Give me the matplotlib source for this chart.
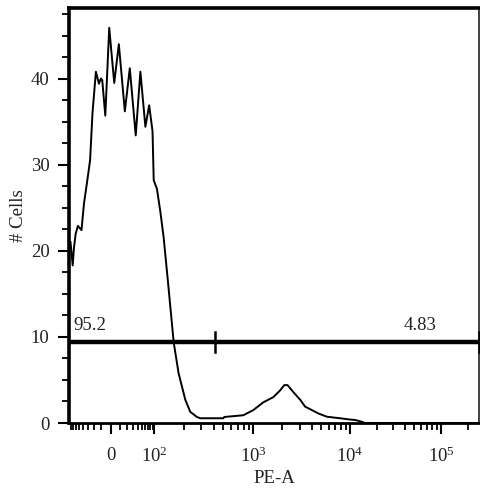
import numpy as np
import matplotlib
matplotlib.use("Agg")
import matplotlib.pyplot as plt
from matplotlib.ticker import FixedLocator, NullFormatter, FixedFormatter

plt.rcParams['font.family'] = ['Liberation Serif', 'DejaVu Serif']
plt.rcParams['mathtext.fontset'] = 'custom'
plt.rcParams['mathtext.rm'] = 'Liberation Serif'
plt.rcParams['mathtext.it'] = 'Liberation Serif:italic'

# ---- data ----
pe_a = [-81, -72, -67, -61, -54, -44, -38, -31, -26, -22, -17, -13, -10.6, -9.0,
        -5.6, -1.4, 3.9, 9.0, 16.5, 23.9, 35, 46, 61, 75, 90, 96, 106, 115, 124,
        139, 157, 176, 206, 231, 270, 292, 498, 510, 793, 1000, 1268, 1607, 1898,
        2087, 2258, 2585, 3050, 3430, 4030, 4710, 5750, 7880, 10000, 11350, 12880,
        14600, 262144]
cells = [21.0, 18.3, 20.4, 22.0, 22.9, 22.4, 25.5, 28.2, 30.5, 36, 40.8, 39.4,
         40.0, 39.8, 35.7, 45.9, 39.5, 44.0, 36.2, 41.2, 33.4, 40.8, 34.4, 36.9,
         33.9, 28.2, 27.2, 24.5, 21.6, 15.8, 9.4, 5.8, 2.7, 1.3, 0.7, 0.55, 0.55,
         0.7, 0.9, 1.5, 2.4, 3.0, 3.8, 4.4, 4.4, 3.6, 2.7, 1.9, 1.5, 1.1, 0.73,
         0.55, 0.4, 0.35, 0.2, 0, 0]

x_major = [0, 100, 1000, 10000, 100000]
x_major_labels = ['0', r'$\mathregular{10^{2}}$', r'$\mathregular{10^{3}}$',
                  r'$\mathregular{10^{4}}$', r'$\mathregular{10^{5}}$']
y_major = [0, 10, 20, 30, 40]

gate_y = 9.4
gate_split = 413
gate_left_label = '95.2'
gate_right_label = '4.83'

x_min, x_max = -88, 262144
y_min, y_max = 0, 48.2

# ---- biexponential-like display scale ----
_anch_x = np.array([-1e3, -100, 0, 100, 1e3, 1e4, 1e5, 1e6])
_anch_p = np.array([-33, 66, 110, 154, 253, 350, 441, 532], dtype=float)

def _g(x):
    return np.arcsinh(np.asarray(x, dtype=float) / 20.0) / np.log(10)

_anch_g = _g(_anch_x)

def fwd(x):
    return np.interp(_g(x), _anch_g, _anch_p)

def inv(p):
    g = np.interp(np.asarray(p, dtype=float), _anch_p, _anch_g)
    return 20.0 * np.sinh(g * np.log(10))

FS = 13.5
TC = '#222222'

fig = plt.figure(figsize=(4.8, 4.9), dpi=100)
ax = fig.add_axes([69/480, 1-423/490, 410/480, 415/490])
ax.set_xscale('function', functions=(fwd, inv))

ax.plot(pe_a, cells, color='black', lw=1.4, solid_joinstyle='round', zorder=3)

# gate
ax.plot([x_min, x_max], [gate_y, gate_y], color='black', lw=3.2,
        solid_capstyle='butt', zorder=4, clip_on=False)
for gx in (gate_split, x_max):
    ax.plot([gx, gx], [gate_y - 1.15, gate_y + 1.15], color='black', lw=1.8,
            zorder=4, clip_on=False)
ax.text(0.01, gate_y + 0.9, gate_left_label, transform=ax.get_yaxis_transform(),
        fontsize=FS, color=TC, ha='left', va='bottom')
ax.text(0.856, gate_y + 0.9, gate_right_label, transform=ax.get_yaxis_transform(),
        fontsize=FS, color=TC, ha='center', va='bottom')

ax.set_xlim(x_min, x_max)
ax.set_ylim(y_min, y_max)

# ticks
minor_x = ([-10 * k for k in range(1, 10)] +
           [10 * k for k in range(1, 10)] +
           [d * k for d in (100, 1000, 10000) for k in range(2, 10)] + [200000])
minor_x = [v for v in minor_x if x_min <= v <= x_max]
ax.xaxis.set_major_locator(FixedLocator(x_major))
ax.xaxis.set_major_formatter(FixedFormatter(x_major_labels))
ax.xaxis.set_minor_locator(FixedLocator(minor_x))
ax.xaxis.set_minor_formatter(NullFormatter())

ax.yaxis.set_major_locator(FixedLocator(y_major))
ax.yaxis.set_minor_locator(FixedLocator(list(np.arange(0, 48, 2.5))))

ax.tick_params(axis='both', which='major', direction='out', length=8, width=1.5,
               labelsize=FS, labelcolor=TC, pad=6)
ax.tick_params(axis='both', which='minor', direction='out', length=5, width=1.3)
ax.tick_params(axis='x', which='major', pad=9)

ax.spines['left'].set_linewidth(2.6)
ax.spines['top'].set_linewidth(2.6)
ax.spines['bottom'].set_linewidth(2.0)
ax.spines['right'].set_linewidth(1.3)
ax.spines['right'].set_color('#333333')

ax.set_ylabel('# Cells', fontsize=FS, color=TC, labelpad=3)
ax.set_xlabel('PE-A', fontsize=FS, color=TC, labelpad=3)

fig.savefig('out.png', dpi=100)
